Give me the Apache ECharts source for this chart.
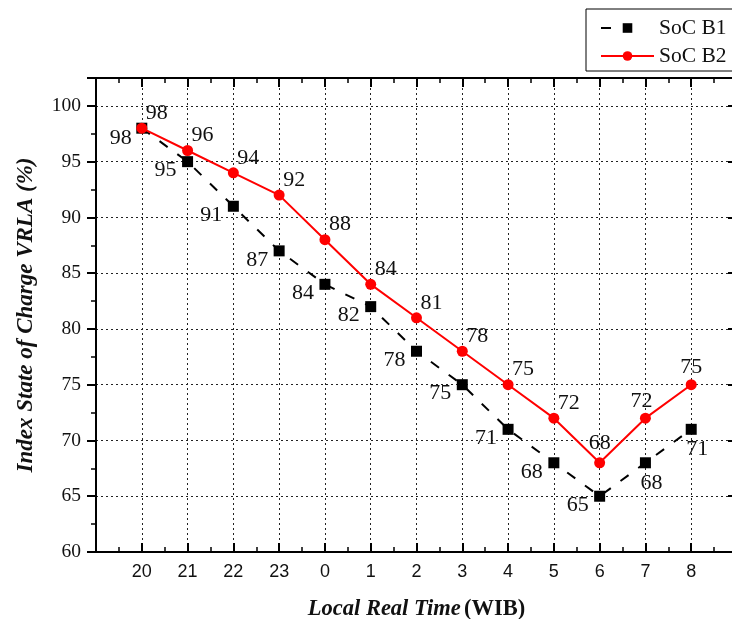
<!DOCTYPE html>
<html>
<head>
<meta charset="utf-8">
<script src="https://cdn.jsdelivr.net/npm/echarts@6/dist/echarts.min.js"></script>
<style>html,body{margin:0;padding:0;background:#fff;}#c{width:732px;height:619px;}</style>
</head>
<body>
<div id="c"></div>
<script>
var categories = ['20','21','22','23','0','1','2','3','4','5','6','7','8'];
var socB1 = [98, 95, 91, 87, 84, 82, 78, 75, 71, 68, 65, 68, 71];
var socB2 = [98, 96, 94, 92, 88, 84, 81, 78, 75, 72, 68, 72, 75];
var yTicks = [60, 65, 70, 75, 80, 85, 90, 95, 100];

// label offsets (style only)
var offB1 = categories.map(function(c, i){
  if (i === 0) return [-21, 10];
  if (i === 11 || i === 12) return [6, 20];
  return [-22, 9];
});
var offB2 = categories.map(function(c, i){
  if (i === 10) return [0, -20];
  if (i === 11) return [-4, -17];
  if (i === 12) return [0, -17];
  return [15, -15];
});

function buildData(vals, offs) {
  return vals.map(function(v, i){
    return { value: [i, v], label: { offset: offs[i] } };
  });
}

var serif = '"Liberation Serif", "Times New Roman", serif';
var sans = '"Liberation Sans", Arial, sans-serif';
var dot = [2, 3];

var chart = echarts.init(document.getElementById('c'), null, {renderer: 'canvas'});
var labelCommon = {
  show: true, position: 'inside', color: '#111', fontFamily: serif, fontSize: 22,
  formatter: function(p){ return p.value[1]; }
};
chart.setOption({
  animation: false,
  backgroundColor: '#fff',
  grid: { left: 96, width: 641, top: 78, height: 474, containLabel: false, outerBoundsMode: 'none' },
  legend: {
    orient: 'vertical', left: 586, top: 9,
    padding: [8, 40, 4, 14], itemGap: 6,
    itemWidth: 53, itemHeight: 12,
    borderColor: '#000', borderWidth: 1, backgroundColor: '#fff',
    textStyle: { fontFamily: serif, fontSize: 21.5, color: '#111', lineHeight: 22 },
    data: [
      { name: 'SoC B1', lineStyle: { type: [10, 60] } },
      { name: 'SoC B2' }
    ]
  },
  xAxis: [{
    type: 'value', min: -1, max: 13, interval: 1, position: 'bottom',
    name: '{bi|Local Real Time} {b|(WIB)}', nameLocation: 'middle', nameGap: 46,
    nameTextStyle: { rich: {
      bi: { fontFamily: serif, fontSize: 22.5, fontWeight: 'bold', fontStyle: 'italic', color: '#111' },
      b: { fontFamily: serif, fontSize: 22.5, fontWeight: 'bold', color: '#111' }
    } },
    axisLine: { show: true, onZero: false, lineStyle: { color: '#000', width: 2 } },
    axisTick: { show: true, inside: true, length: 9, lineStyle: { color: '#000', width: 2 } },
    minorTick: { show: true, splitNumber: 2, length: 5, lineStyle: { color: '#000', width: 1.5 } },
    axisLabel: { margin: 11, fontFamily: sans, fontSize: 18, color: '#111',
      formatter: function(v){ return (v >= 0 && v < categories.length) ? categories[v] : ''; } },
    splitLine: { show: true, lineStyle: { color: '#222', width: 1, type: dot } }
  }, {
    type: 'value', min: -1, max: 13, interval: 1, position: 'top',
    axisLine: { show: true, onZero: false, lineStyle: { color: '#000', width: 2 } },
    axisTick: { show: true, inside: true, length: 9, lineStyle: { color: '#000', width: 2 } },
    minorTick: { show: true, splitNumber: 2, length: 5, lineStyle: { color: '#000', width: 1.5 } },
    axisLabel: { show: false }, splitLine: { show: false }
  }],
  yAxis: [{
    type: 'value', min: 60, max: 102.5, interval: 5, position: 'left',
    name: 'Index State of Charge VRLA (%)', nameLocation: 'middle', nameGap: 58,
    nameTextStyle: { fontFamily: serif, fontSize: 23, fontWeight: 'bold', fontStyle: 'italic', color: '#111' },
    axisLine: { show: true, onZero: false, lineStyle: { color: '#000', width: 2 } },
    axisTick: { show: true, inside: false, length: 9, lineStyle: { color: '#000', width: 2 } },
    minorTick: { show: true, splitNumber: 2, length: 5, lineStyle: { color: '#000', width: 1.5 } },
    axisLabel: { margin: 15, fontFamily: serif, fontSize: 19.5, color: '#111', showMaxLabel: false,
      formatter: function(v){ return yTicks.indexOf(v) >= 0 ? String(v) : ''; } },
    splitLine: { show: true, lineStyle: { color: '#222', width: 1, type: dot } }
  }, {
    type: 'value', min: 60, max: 102.5, interval: 5, position: 'right',
    axisLine: { show: true, onZero: false, lineStyle: { color: '#000', width: 2 } },
    axisTick: { show: true, inside: true, length: 9, lineStyle: { color: '#000', width: 2 } },
    minorTick: { show: true, splitNumber: 2, length: 5, lineStyle: { color: '#000', width: 1.5 } },
    axisLabel: { show: false }, splitLine: { show: false }
  }],
  series: [{
    name: 'SoC B1', type: 'line', xAxisIndex: 0, yAxisIndex: 0,
    data: buildData(socB1, offB1),
    symbol: 'rect', symbolSize: 11,
    itemStyle: { color: '#000' },
    lineStyle: { color: '#000', width: 2, type: [10, 12] },
    label: labelCommon, z: 3
  }, {
    name: 'SoC B2', type: 'line', xAxisIndex: 0, yAxisIndex: 0,
    data: buildData(socB2, offB2),
    symbol: 'circle', symbolSize: 11,
    itemStyle: { color: '#ff0000' },
    lineStyle: { color: '#ff0000', width: 2 },
    label: labelCommon, z: 4
  }]
});
</script>
</body>
</html>
